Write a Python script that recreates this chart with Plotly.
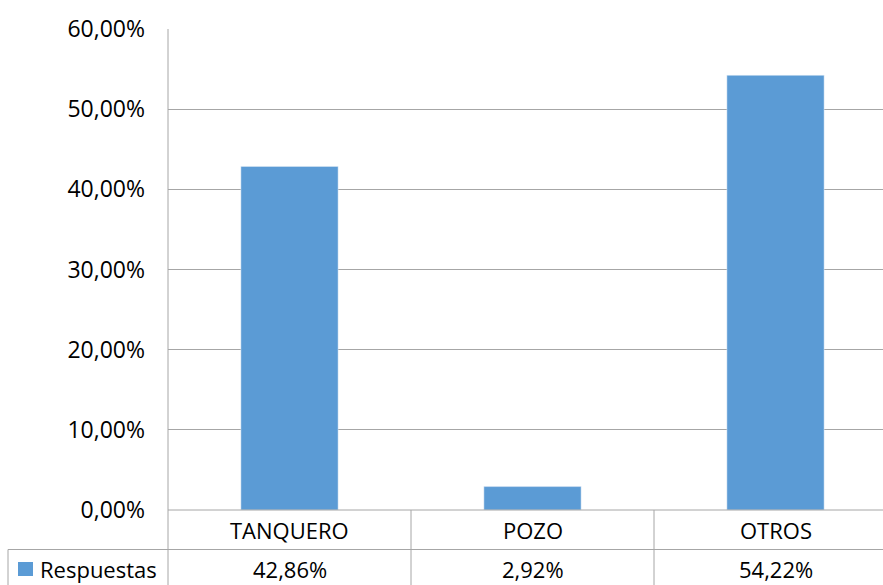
import plotly.graph_objects as go

categories = ["TANQUERO", "POZO", "OTROS"]
values = [0.4286, 0.0292, 0.5422]
series_name = "Respuestas"
y_ticks = [0, 0.1, 0.2, 0.3, 0.4, 0.5, 0.6]

W, H = 883, 585
ML, MR, MT, MB = 168, 0, 29, 75
plot_w = W - ML - MR
plot_h = H - MT - MB
cat_w = 243.0  # pixel width of one category
x_hi = -0.5 + plot_w / cat_w

GRID = "#A6A6A6"
BAR = "#5B9BD5"
FONT = "Open Sans, Liberation Sans, sans-serif"
FS = 22

def px2paper_x(px):
    return (px - ML) / plot_w

def py2paper_y(py):
    return (H - MB - py) / plot_h

fig = go.Figure()
fig.add_trace(go.Bar(x=categories, y=values, marker_color=BAR, width=0.4,
                     name=series_name, showlegend=False))

shapes = []
row_line = py2paper_y(549.5)
bottom = py2paper_y(H + 2)
shapes.append(dict(type="line", xref="paper", yref="paper", x0=0, x1=0, y0=1, y1=bottom,
                   line=dict(color=GRID, width=1)))
shapes.append(dict(type="line", xref="paper", yref="paper", x0=0, x1=1, y0=0, y1=0,
                   line=dict(color=GRID, width=1)))
shapes.append(dict(type="line", xref="paper", yref="paper", x0=px2paper_x(8), x1=1,
                   y0=row_line, y1=row_line, line=dict(color=GRID, width=1)))
shapes.append(dict(type="line", xref="paper", yref="paper", x0=px2paper_x(8), x1=px2paper_x(8),
                   y0=row_line, y1=bottom, line=dict(color=GRID, width=1)))
for i in range(1, len(categories)):
    shapes.append(dict(type="line", xref="x", yref="paper", x0=i - 0.5, x1=i - 0.5,
                       y0=0, y1=bottom, line=dict(color=GRID, width=1)))
shapes.append(dict(type="rect", xref="paper", yref="paper",
                   x0=px2paper_x(18), x1=px2paper_x(33), y0=py2paper_y(576), y1=py2paper_y(562),
                   fillcolor=BAR, line=dict(width=0)))

annotations = []
for c, v in zip(categories, values):
    annotations.append(dict(x=c, xref="x", y=py2paper_y(530), yref="paper", text=c,
                            showarrow=False, xanchor="center", yanchor="middle",
                            font=dict(family=FONT, size=FS, color="#000")))
    annotations.append(dict(x=c, xref="x", y=py2paper_y(569), yref="paper",
                            text=f"{v*100:.2f}%".replace(".", ","),
                            showarrow=False, xanchor="center", yanchor="middle",
                            font=dict(family=FONT, size=FS, color="#000")))
annotations.append(dict(x=px2paper_x(38), xref="paper", y=py2paper_y(569), yref="paper",
                        text=series_name, showarrow=False, xanchor="left", yanchor="middle",
                        font=dict(family=FONT, size=FS, color="#000")))

fig.update_layout(
    width=W, height=H,
    margin=dict(l=ML, r=MR, t=MT, b=MB),
    paper_bgcolor="white", plot_bgcolor="white",
    separators=",.",
    showlegend=False,
    font=dict(family=FONT, size=FS, color="#000"),
    xaxis=dict(range=[-0.5, x_hi], showticklabels=False, showgrid=False, zeroline=False,
               showline=False, ticks=""),
    yaxis=dict(range=[0, 0.6], tickvals=y_ticks, tickformat=".2%", showgrid=True,
               gridcolor=GRID, gridwidth=1, zeroline=False, showline=False, ticks="",
               ticklen=0, ticklabelstandoff=22,
               tickfont=dict(family=FONT, size=FS + 1, color="#000")),
    shapes=shapes, annotations=annotations,
)

fig.write_html("out.html")
